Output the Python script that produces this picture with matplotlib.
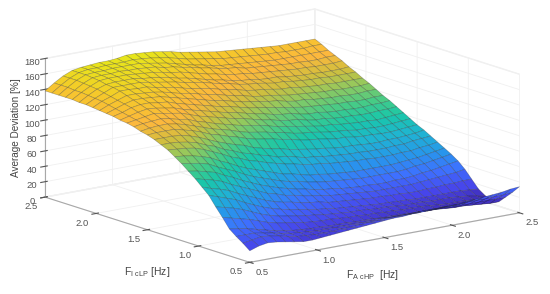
import numpy as np
import matplotlib
matplotlib.use("Agg")
import matplotlib.pyplot as plt
from matplotlib.colors import LinearSegmentedColormap

plt.rcParams['font.family'] = ['Liberation Sans', 'DejaVu Sans']

# axis values
f_a = [0.5, 0.567, 0.633, 0.7, 0.767, 0.833, 0.9, 0.967, 1.033, 1.1, 1.167,
       1.233, 1.3, 1.367, 1.433, 1.5, 1.567, 1.633, 1.7, 1.767, 1.833, 1.9,
       1.967, 2.033, 2.1, 2.167, 2.233, 2.3, 2.367, 2.433, 2.5]
f_i = list(f_a)

# average deviation, one row per f_i value
dev = [
    [15, 19, 21, 20, 18, 16, 14, 14, 15, 16, 17, 18, 19, 20, 21, 22, 23, 23, 24, 24, 25, 25, 26, 26, 27, 28, 29, 30, 31, 33, 34],
    [22, 24, 26, 25, 23, 20, 18, 17, 16, 16, 16, 17, 17, 18, 19, 19, 20, 20, 20, 20, 21, 21, 21, 21, 21, 22, 22, 22, 23, 23, 24],
    [28, 28, 28, 26, 24, 21, 19, 18, 17, 16, 16, 16, 16, 16, 16, 16, 17, 16, 16, 16, 16, 16, 16, 16, 15, 15, 15, 15, 15, 15, 15],
    [35, 33, 31, 28, 25, 22, 20, 18, 17, 16, 16, 15, 15, 15, 14, 14, 14, 13, 13, 13, 12, 12, 11, 11, 10, 9, 9, 8, 7, 6, 6],
    [47, 44, 41, 38, 34, 30, 27, 25, 23, 21, 20, 19, 19, 18, 17, 17, 16, 16, 15, 15, 14, 14, 14, 13, 12, 11, 11, 11, 10, 9, 6],
    [58, 55, 52, 48, 43, 38, 34, 31, 29, 27, 25, 24, 22, 21, 20, 19, 19, 18, 17, 17, 16, 15, 15, 15, 14, 14, 14, 13, 12, 10, 8],
    [70, 66, 62, 58, 52, 47, 42, 38, 35, 32, 30, 28, 26, 25, 23, 22, 21, 20, 19, 18, 18, 17, 17, 16, 16, 16, 16, 16, 16, 15, 14],
    [78, 74, 71, 67, 61, 56, 51, 46, 42, 39, 37, 34, 32, 31, 28, 27, 26, 25, 24, 23, 23, 22, 22, 21, 21, 22, 22, 23, 23, 24, 24],
    [86, 83, 80, 76, 70, 65, 60, 55, 50, 47, 43, 41, 38, 36, 34, 32, 31, 30, 29, 28, 27, 27, 27, 27, 27, 28, 29, 30, 31, 32, 34],
    [93, 91, 88, 85, 79, 74, 68, 63, 58, 54, 50, 47, 44, 42, 39, 37, 36, 34, 33, 32, 32, 31, 31, 32, 32, 33, 35, 36, 38, 40, 42],
    [100, 98, 96, 93, 87, 82, 77, 71, 66, 62, 58, 54, 51, 49, 46, 44, 42, 41, 40, 39, 38, 38, 38, 38, 38, 39, 41, 42, 44, 46, 48],
    [106, 105, 103, 100, 96, 90, 85, 79, 74, 70, 66, 62, 58, 56, 53, 50, 49, 47, 46, 45, 44, 44, 44, 44, 44, 45, 46, 47, 49, 51, 53],
    [112, 111, 110, 108, 104, 99, 94, 88, 84, 79, 76, 72, 69, 66, 64, 61, 59, 58, 56, 55, 54, 53, 53, 52, 52, 52, 53, 53, 55, 56, 58],
    [116, 116, 115, 113, 110, 105, 101, 95, 91, 86, 83, 79, 76, 72, 71, 68, 65, 64, 62, 61, 60, 59, 59, 58, 58, 58, 59, 59, 61, 62, 63],
    [120, 120, 120, 119, 116, 112, 107, 102, 98, 94, 91, 86, 83, 80, 78, 75, 73, 71, 69, 68, 66, 65, 65, 64, 63, 63, 64, 64, 65, 66, 68],
    [123, 124, 124, 124, 121, 118, 114, 109, 106, 102, 99, 95, 92, 90, 88, 85, 83, 80, 78, 77, 75, 73, 73, 71, 70, 70, 69, 69, 70, 71, 72],
    [125, 127, 128, 128, 126, 123, 119, 115, 111, 108, 105, 101, 98, 96, 94, 91, 89, 86, 84, 83, 81, 79, 78, 77, 75, 75, 74, 74, 75, 76, 77],
    [128, 130, 131, 132, 130, 127, 125, 120, 117, 113, 110, 107, 104, 102, 100, 97, 94, 92, 90, 88, 86, 84, 84, 82, 81, 80, 80, 79, 80, 81, 82],
    [130, 132, 134, 136, 134, 132, 130, 126, 122, 119, 116, 113, 110, 108, 105, 102, 100, 97, 95, 94, 91, 89, 89, 87, 86, 86, 85, 85, 86, 86, 87],
    [131, 134, 137, 139, 138, 136, 134, 130, 127, 124, 121, 118, 115, 113, 110, 107, 105, 102, 100, 99, 96, 94, 94, 92, 91, 91, 90, 90, 91, 91, 92],
    [133, 136, 140, 142, 142, 140, 139, 135, 132, 129, 126, 123, 120, 118, 115, 112, 110, 108, 106, 104, 102, 100, 99, 98, 97, 96, 96, 95, 95, 96, 96],
    [134, 138, 142, 145, 145, 144, 143, 140, 137, 134, 131, 128, 125, 123, 120, 117, 115, 113, 111, 110, 107, 105, 105, 103, 102, 101, 101, 100, 100, 101, 101],
    [135, 140, 144, 148, 148, 147, 146, 144, 141, 138, 136, 133, 130, 128, 125, 122, 120, 117, 115, 114, 112, 110, 109, 108, 107, 106, 106, 105, 105, 105, 106],
    [136, 142, 146, 151, 151, 150, 150, 147, 145, 143, 140, 137, 135, 133, 130, 127, 125, 122, 120, 119, 117, 115, 115, 113, 112, 111, 111, 110, 110, 110, 110],
    [137, 143, 148, 153, 153, 153, 153, 151, 149, 147, 145, 142, 140, 138, 135, 132, 130, 127, 125, 124, 122, 120, 120, 118, 117, 116, 116, 115, 115, 115, 115],
    [137, 144, 150, 154, 155, 155, 155, 153, 152, 150, 148, 145, 143, 140, 137, 134, 132, 129, 127, 126, 124, 123, 123, 121, 120, 119, 119, 118, 118, 118, 119],
    [138, 145, 151, 156, 157, 157, 157, 156, 155, 154, 152, 149, 148, 145, 142, 139, 137, 134, 132, 131, 129, 128, 127, 126, 125, 124, 124, 123, 123, 123, 124],
    [138, 145, 152, 157, 158, 158, 159, 158, 158, 157, 156, 153, 152, 149, 147, 144, 142, 139, 137, 136, 133, 132, 131, 130, 129, 128, 128, 127, 127, 128, 128],
    [138, 146, 153, 158, 159, 159, 160, 160, 160, 160, 158, 156, 154, 151, 148, 145, 143, 140, 138, 137, 136, 135, 134, 133, 132, 132, 132, 132, 132, 132, 132],
    [138, 146, 153, 158, 160, 160, 161, 161, 161, 162, 161, 160, 158, 156, 153, 150, 148, 146, 144, 142, 141, 140, 139, 138, 137, 137, 136, 136, 136, 137, 137],
    [138, 146, 153, 158, 160, 161, 162, 162, 163, 165, 165, 164, 163, 161, 159, 156, 154, 152, 150, 148, 147, 146, 145, 144, 143, 142, 141, 141, 141, 141, 141],
]

xy_ticks = [0.5, 1.0, 1.5, 2.0, 2.5]
z_ticks = [0, 20, 40, 60, 80, 100, 120, 140, 160, 180]

# parula like colours, stops
parula = LinearSegmentedColormap.from_list("parula", [
    (0.0, "#3e26a8"), (0.08, "#4746eb"), (0.18, "#3e70ff"), (0.28, "#2797eb"),
    (0.38, "#1fb5d1"), (0.47, "#1ac7a9"), (0.55, "#48cb86"), (0.63, "#91c95f"),
    (0.70, "#cfbf3f"), (0.78, "#fcb83d"), (0.88, "#f5c82b"), (1.0, "#e6e81a")])

X, Y = np.meshgrid(f_a, f_i)
Z = np.array(dev, dtype=float)

fig = plt.figure(figsize=(5.5, 2.94), dpi=100)
ax = fig.add_axes([0.006, 0.025, 1, 1], projection="3d", proj_type="ortho")
ax.view_init(elev=14, azim=-127.2)
ax.set_box_aspect((339, 339, 143), zoom=1.65)

surf = ax.plot_surface(X, Y, Z, cmap=parula, rstride=1, cstride=1, shade=False,
                       edgecolor=(0.1, 0.1, 0.1, 0.32), linewidth=0.45,
                       vmin=Z.min(), vmax=Z.max())
surf.set_clip_on(False)

ax.set_xlim(0.5, 2.5, view_margin=0)
ax.set_ylim(0.5, 2.5, view_margin=0)
ax.set_zlim(0, 180, view_margin=0)
ax.set_xticks(xy_ticks)
ax.set_yticks(xy_ticks)
ax.set_zticks(z_ticks)
ax.set_xticklabels(["%.1f" % t for t in xy_ticks])
ax.set_yticklabels(["%.1f" % t for t in xy_ticks])

for axis in [ax.xaxis, ax.yaxis, ax.zaxis]:
    axis.set_pane_color((1, 1, 1, 1))
    axis.pane.set_edgecolor("#f0f0f0")
    axis.line.set_color("#a8a8a8")
    axis._axinfo["grid"]["color"] = "#f0f0f0"
    axis._axinfo["grid"]["linewidth"] = 0.6
    axis._axinfo["tick"]["color"] = "#a8a8a8"
ax.tick_params(labelsize=6.8, colors="#555555", pad=-5)
ax.tick_params(axis="z", pad=-5)

# push the tick labels off the corner, same as the reference
for lab in ax.get_xticklabels():
    lab.set_ha("left")
for lab in ax.get_yticklabels():
    lab.set_ha("right")

# labels sit straight under the axes like in matlab, so place them on the figure
fig.text(373 / 550, 1 - 275 / 294, "F$_{\\mathregular{A\\ cHP}}$  [Hz]", fontsize=7.5,
         color="#444444", ha="center", va="center")
fig.text(147 / 550, 1 - 272 / 294, "F$_{\\mathregular{I\\ cLP}}$ [Hz]", fontsize=7.5,
         color="#444444", ha="center", va="center")
fig.text(16 / 550, 1 - 128 / 294, "Average Deviation [%]", fontsize=7.2, rotation=90,
         color="#444444", ha="center", va="center")

fig.savefig("out.png", dpi=100)
